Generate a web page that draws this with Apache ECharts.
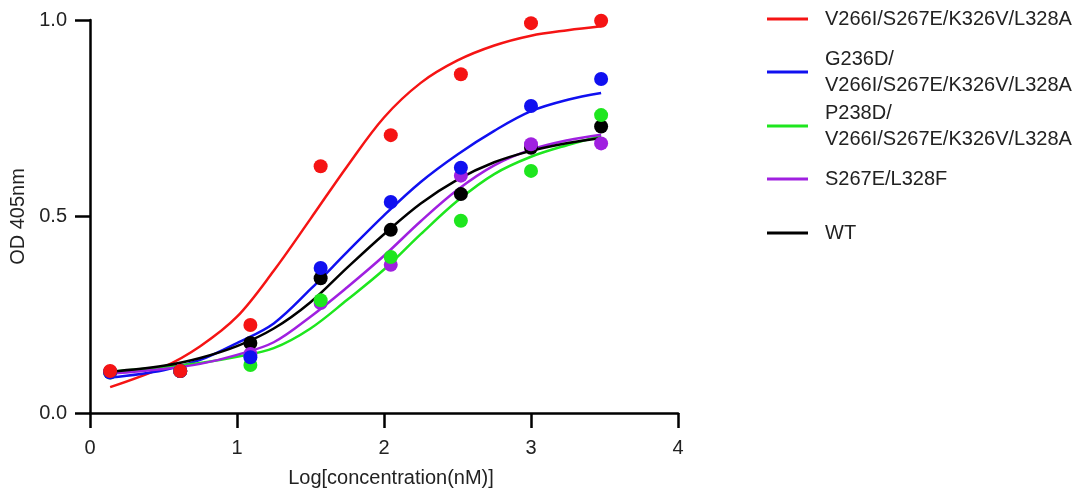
<!DOCTYPE html>
<html>
<head>
<meta charset="utf-8">
<script src="https://cdn.jsdelivr.net/npm/echarts@6/dist/echarts.min.js"></script>
<style>html,body{margin:0;padding:0;background:#fff}#c{width:1081px;height:499px}</style>
</head>
<body>
<div id="c"></div>
<script>
// Log concentration of the measured points
const xPoints = [0.137, 0.614, 1.091, 1.569, 2.046, 2.523, 3.0, 3.477];
// Log concentration where the fitted curves were read
const xCurve = [0.137, 0.5, 0.75, 1.0, 1.25, 1.5, 1.75, 2.0, 2.25, 2.5, 2.75, 3.0, 3.25, 3.477];

const seriesNames = [
  'V266I/S267E/K326V/L328A',
  'G236D/\nV266I/S267E/K326V/L328A',
  'P238D/\nV266I/S267E/K326V/L328A',
  'S267E/L328F',
  'WT'
];

// measured OD 405nm
const redPts    = [0.107, 0.107, 0.224, 0.628, 0.707, 0.862, 0.992, 0.998];
const bluePts   = [0.103, 0.107, 0.142, 0.369, 0.537, 0.624, 0.781, 0.850];
const greenPts  = [0.103, 0.107, 0.122, 0.287, 0.397, 0.489, 0.616, 0.758];
const purplePts = [0.105, 0.107, 0.150, 0.280, 0.377, 0.604, 0.684, 0.686];
const blackPts  = [0.105, 0.107, 0.178, 0.343, 0.466, 0.557, 0.675, 0.729];

// fitted curves
const redCurve    = [0.066, 0.117, 0.170, 0.245, 0.362, 0.494, 0.628, 0.752, 0.840, 0.897, 0.935, 0.960, 0.974, 0.984];
const blueCurve   = [0.090, 0.109, 0.135, 0.178, 0.228, 0.315, 0.410, 0.503, 0.588, 0.658, 0.718, 0.768, 0.797, 0.814];
const greenCurve  = [0.105, 0.117, 0.127, 0.143, 0.165, 0.215, 0.288, 0.365, 0.455, 0.540, 0.608, 0.652, 0.682, 0.705];
const purpleCurve = [0.100, 0.112, 0.125, 0.148, 0.180, 0.245, 0.320, 0.400, 0.488, 0.568, 0.630, 0.670, 0.694, 0.708];
const blackCurve  = [0.105, 0.120, 0.140, 0.170, 0.215, 0.282, 0.370, 0.455, 0.533, 0.594, 0.638, 0.667, 0.687, 0.700];

const colors = ['#f51414', '#1010f0', '#1ee61e', '#a020e0', '#000000'];
const curves = [redCurve, blueCurve, greenCurve, purpleCurve, blackCurve];
const points = [redPts, bluePts, greenPts, purplePts, blackPts];

const font = '"Liberation Sans", Arial, sans-serif';
const pair = (xs, ys) => xs.map((x, i) => [x, ys[i]]);

const series = [];
curves.forEach((c, i) => {
  series.push({
    name: seriesNames[i], type: 'line', smooth: 0.35, showSymbol: false,
    data: pair(xCurve, c), color: colors[i],
    lineStyle: { width: 2.5, color: colors[i] }, z: 2
  });
});
// draw points, red on top
[4, 3, 2, 1, 0].forEach((i, k) => {
  series.push({
    name: seriesNames[i], type: 'scatter', symbol: 'circle', symbolSize: 14,
    data: pair(xPoints, points[i]), itemStyle: { color: colors[i], opacity: 1 }, z: 3 + k
  });
});

const legendTops = [6, 46, 100, 166, 220];
const legends = seriesNames.map((n, i) => ({
  data: [n], left: 767, top: legendTops[i], orient: 'vertical', padding: 0,
  icon: 'rect', itemWidth: 41, itemHeight: 3,
  textStyle: { fontFamily: font, fontSize: 20, color: '#222', lineHeight: 26, padding: [0, 0, 0, 12] },
  selectedMode: false
}));

const chart = echarts.init(document.getElementById('c'), null, { renderer: 'canvas' });
chart.setOption({
  animation: false,
  backgroundColor: '#fff',
  grid: { left: 90, right: 403, top: 20, bottom: 86, containLabel: false },
  legend: legends,
  xAxis: {
    type: 'value', min: 0, max: 4, interval: 1,
    name: 'Log[concentration(nM)]', nameLocation: 'middle', nameGap: 55,
    nameTextStyle: { fontFamily: font, fontSize: 20, color: '#222', padding: [0, 0, 0, 14] },
    axisLine: { show: true, onZero: false, lineStyle: { color: '#000', width: 2.5 } },
    axisTick: { show: true, length: 15, lineStyle: { color: '#000', width: 2.5 } },
    axisLabel: { fontFamily: font, fontSize: 20, color: '#222', margin: 25 },
    splitLine: { show: false }
  },
  yAxis: {
    type: 'value', min: 0, max: 1, interval: 0.5,
    name: 'OD 405nm', nameLocation: 'middle', nameGap: 59,
    nameTextStyle: { fontFamily: font, fontSize: 20, color: '#222' },
    axisLine: { show: true, lineStyle: { color: '#000', width: 2.5 } },
    axisTick: { show: true, length: 15, lineStyle: { color: '#000', width: 2.5 } },
    axisLabel: { fontFamily: font, fontSize: 20, color: '#222', margin: 23, formatter: v => v.toFixed(1) },
    splitLine: { show: false }
  },
  series: series
});
</script>
</body>
</html>
